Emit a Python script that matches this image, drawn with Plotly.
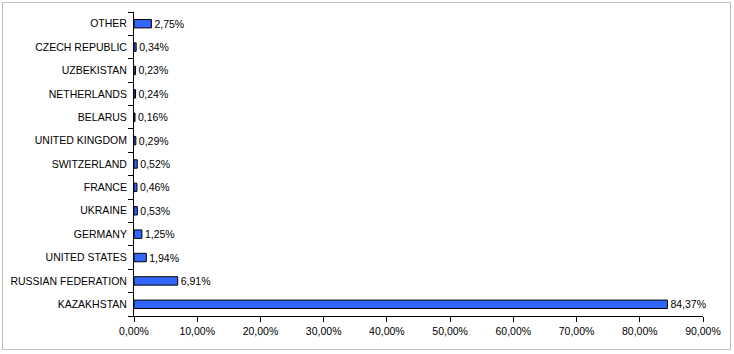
import plotly.graph_objects as go

countries = ["KAZAKHSTAN", "RUSSIAN FEDERATION", "UNITED STATES", "GERMANY", "UKRAINE",
             "FRANCE", "SWITZERLAND", "UNITED KINGDOM", "BELARUS", "NETHERLANDS",
             "UZBEKISTAN", "CZECH REPUBLIC", "OTHER"]
shares = [84.37, 6.91, 1.94, 1.25, 0.53, 0.46, 0.52, 0.29, 0.16, 0.24, 0.23, 0.34, 2.75]
x_ticks = [0, 10, 20, 30, 40, 50, 60, 70, 80, 90]
x_tick_labels = [f"{v:.2f}%".replace(".", ",") for v in x_ticks]

W, H = 734, 354
ml, mr, mt, mb = 134, 31, 12, 38
pw, ph = W - ml - mr, H - mt - mb
FONT = "Liberation Sans, Arial, sans-serif"

fig = go.Figure(go.Bar(
    x=shares, y=countries, orientation="h",
    marker=dict(color="#3366FF", line=dict(color="#000000", width=1)),
    texttemplate="%{x:.2f}%", textposition="outside", constraintext="none",
    textfont=dict(family=FONT, size=10.5, color="#000"),
    cliponaxis=False,
))

def px_x(p):
    return (p - ml) / pw

def px_y(p):
    return (H - mb - p) / ph

fig.add_shape(type="rect", xref="paper", yref="paper",
              x0=px_x(2.5), x1=px_x(730.5), y0=px_y(349.5), y1=px_y(2.5),
              line=dict(color="#BFBFBF", width=1), layer="below")

fig.update_layout(
    width=W, height=H, margin=dict(l=ml, r=mr, t=mt, b=mb, autoexpand=False),
    paper_bgcolor="white", plot_bgcolor="white",
    separators=",.",
    bargap=0.64, showlegend=False,
    font=dict(family=FONT, size=10.5, color="#000"),
    xaxis=dict(range=[0, 90], tickvals=x_ticks, ticktext=x_tick_labels,
               showgrid=False, zeroline=False, showline=True, linecolor="#000", linewidth=1,
               ticks="outside", ticklen=5, tickcolor="#000", fixedrange=True, automargin=False),
    yaxis=dict(showgrid=False, zeroline=False, showline=True, linecolor="#000", linewidth=1,
               ticks="outside", ticklen=5, tickcolor="#000", tickson="boundaries",
               ticklabelstandoff=4, fixedrange=True, automargin=False),
)

fig.write_html("out.html")
